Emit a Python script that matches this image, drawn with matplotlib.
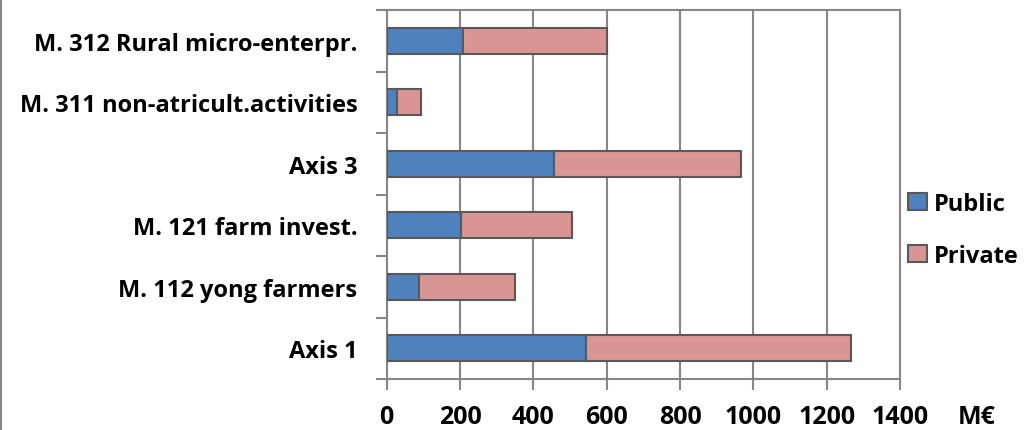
import matplotlib
matplotlib.use("Agg")
import matplotlib.pyplot as plt
import numpy as np
from matplotlib.lines import Line2D

categories = ["Axis 1", "M. 112 yong farmers", "M. 121 farm invest.",
              "Axis 3", "M. 311 non-atricult.activities", "M. 312 Rural micro-enterpr."]
public = [543, 89, 202, 457, 27, 207]
private = [722, 262, 303, 508, 67, 393]
xticks = [0, 200, 400, 600, 800, 1000, 1200, 1400]

plt.rcParams['font.family'] = ['Open Sans', 'DejaVu Sans']
plt.rcParams['font.weight'] = 'bold'

fig = plt.figure(figsize=(10.29, 4.31), dpi=100)
ax = fig.add_axes([386.7/1029, 1-380/431, (900-386.7)/1029, (380-11)/431])

grey = '#868686'
edge = '#595959'
y = np.arange(len(categories))
h = 0.42
ax.barh(y, public, height=h, color='#4f81bd', edgecolor=edge, linewidth=1.5, label='Public', zorder=3)
ax.barh(y, private, left=public, height=h, color='#d99594', edgecolor=edge, linewidth=1.5, label='Private', zorder=3)

ax.set_xlim(0, 1400)
ax.set_ylim(-0.5, len(categories)-0.5)
ax.set_xticks(xticks)
ax.set_xticklabels([str(v) for v in xticks], fontsize=18, fontweight='bold')
ax.set_yticks(y)
ax.set_yticklabels(categories, fontsize=17, fontweight='bold')
ax.tick_params(axis='y', length=0, pad=21)
ax.set_yticks(np.arange(-0.5, len(categories)), minor=True)
ax.tick_params(axis='y', which='minor', length=8, color=grey, width=1.5)
ax.tick_params(axis='x', length=8, color=grey, width=1.5, pad=10)
ax.xaxis.grid(True, color=grey, linewidth=1.5, zorder=0)
ax.set_axisbelow(True)
for s in ax.spines.values():
    s.set_color(grey)
    s.set_linewidth(1.5)

handles = [plt.Rectangle((0, 0), 1, 1, facecolor='#4f81bd', edgecolor=edge, linewidth=1.5),
           plt.Rectangle((0, 0), 1, 1, facecolor='#d99594', edgecolor=edge, linewidth=1.5)]
fig.legend(handles, ['Public', 'Private'], loc='center left',
           bbox_to_anchor=(908/1029, 1-231/431), frameon=False,
           prop={'size': 17, 'weight': 'bold'}, handlelength=0.8, handleheight=0.72,
           handletextpad=0.3, labelspacing=1.2, borderaxespad=0, borderpad=0)

fig.text(958/1029, 1-418/431, "M€", fontsize=18, fontweight='bold', va='center', ha='left')
fig.add_artist(Line2D([0.7/1029, 0.7/1029], [0, 1], color=grey, linewidth=1.5))

fig.savefig("out.png", dpi=100)
